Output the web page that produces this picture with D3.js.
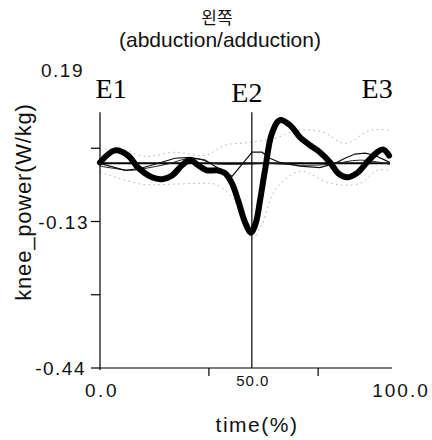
<!DOCTYPE html>
<html>
<head>
<meta charset="utf-8">
<script src="https://cdn.jsdelivr.net/npm/d3@7"></script>
<style>
  html, body { margin: 0; padding: 0; background: #fff; }
  svg { display: block; }
</style>
</head>
<body>
<svg id="chart" width="432" height="440"></svg>
<script>
// ---- data ----
const titleLines = ["왼쪽", "(abduction/adduction)"];
const xLabel = "time(%)";
const yLabel = "knee_power(W/kg)";
const yTickValues = [0.19, 0.0325, -0.125, -0.2825, -0.44];
const yTickLabels = ["0.19", "", "-0.13", "", "-0.44"];
const xMinorTicks = [37.3, 74.7];
const eventNames = ["E1", "E2", "E3"];
const eventTimes = [0, 52, 100];
const eventLabelTimes = [3.8, 50.3, 94.9];

// patient curve (thick)
const patientT = [0, 5.1, 9.6, 13, 17.8, 21.2, 24.7, 28.1, 30.8, 33.6, 36.6, 40.1, 42.8, 45.2, 47.3, 49.7, 51.7, 53.4, 54.8, 56.5, 58.9, 61.6, 65.1, 68.5, 71.9, 75.3, 78.8, 81.5, 84.6, 88, 91.4, 94.9, 96.9, 99];
const patientV = [0.002, 0.028, 0.017, -0.009, -0.030, -0.034, -0.026, -0.004, 0.007, -0.004, -0.015, -0.015, -0.021, -0.043, -0.080, -0.127, -0.149, -0.127, -0.080, -0.015, 0.065, 0.093, 0.082, 0.056, 0.039, 0.024, 0.002, -0.021, -0.030, -0.021, 0.002, 0.024, 0.030, 0.017];

// normal mean curves (thin)
const normalAT = [0, 3.4, 8.6, 13.7, 18.8, 25.7, 30.8, 36, 39.4, 45.2, 52.1, 55.5, 58.2, 61.6, 68.5, 75.3, 80.5, 83.9, 87.3, 90.8, 94.2, 97.6, 99.3];
const normalAV = [0.000, -0.006, -0.015, -0.011, -0.002, 0.011, 0.013, 0.007, -0.006, -0.028, 0.024, 0.024, 0.011, 0.002, -0.006, -0.009, 0.000, 0.011, 0.020, 0.022, 0.017, 0.007, 0.002];
const normalBT = [0, 5.1, 10.3, 17.1, 24, 29.1, 34.2, 38.4, 47.9, 58.2, 68.5, 78.8, 89, 99.3];
const normalBV = [-0.006, -0.011, -0.015, -0.009, 0.000, 0.009, 0.009, 0.000, -0.002, 0.000, -0.004, -0.002, 0.007, -0.002];

// SD bands (dotted gray)
const upperT = [0, 6.8, 15.4, 25.7, 36, 42.8, 51.4, 59.9, 67.5, 76.4, 83.9, 92.5, 99.3];
const upperV = [0.028, 0.032, 0.015, 0.024, 0.017, 0.039, 0.045, 0.054, 0.071, 0.067, 0.043, 0.071, 0.071];
const lowerT = [0, 14.4, 23.3, 34.9, 39.4, 45.2, 49.7, 52.1, 55.5, 59.9, 68.5, 78.8, 89, 94.9, 99.3];
const lowerV = [-0.019, -0.045, -0.045, -0.043, -0.045, -0.073, -0.131, -0.162, -0.131, -0.058, -0.017, -0.043, -0.043, -0.015, -0.015];

const zeroValue = 0;
const axisTopValue = 0.11;

// ---- drawing ----
const svg = d3.select("#chart");
const x = d3.scaleLinear().domain([0, 100]).range([100, 392]);
const y = d3.scaleLinear().domain([-0.44, 0.19]).range([368, 75]);
const sans = "'Liberation Sans', Arial, sans-serif";

const zip = (ts, vs) => ts.map((t, i) => [t, vs[i]]);
const mkLine = (curve) => d3.line().x(d => x(d[0])).y(d => y(d[1])).curve(curve);

// title
svg.append("text").attr("x", 217).attr("y", 24).attr("text-anchor", "middle")
  .attr("font-family", "'Noto Sans CJK KR', sans-serif").attr("font-size", 17).attr("fill", "#111").text(titleLines[0]);
svg.append("text").attr("x", 220).attr("y", 47).attr("text-anchor", "middle")
  .attr("font-family", sans).attr("font-size", 21).attr("fill", "#111").text(titleLines[1]);

// SD bands
[[upperT, upperV], [lowerT, lowerV]].forEach(([ts, vs]) => {
  svg.append("path").datum(zip(ts, vs))
    .attr("d", mkLine(d3.curveCatmullRom))
    .attr("fill", "none").attr("stroke", "#b0b0b0").attr("stroke-width", 1)
    .attr("stroke-dasharray", "1.5,3.5");
});

// zero line
svg.append("line").attr("x1", x(0)).attr("x2", x(99.3))
  .attr("y1", y(zeroValue)).attr("y2", y(zeroValue))
  .attr("stroke", "#000").attr("stroke-width", 2);

// normal thin curves
svg.append("path").datum(zip(normalBT, normalBV))
  .attr("d", mkLine(d3.curveCatmullRom))
  .attr("fill", "none").attr("stroke", "#222").attr("stroke-width", 1);
svg.append("path").datum(zip(normalAT, normalAV))
  .attr("d", mkLine(d3.curveLinear))
  .attr("fill", "none").attr("stroke", "#111").attr("stroke-width", 1.2);

// event lines (E2)
eventTimes.forEach((t) => {
  if (t > 0 && t < 100) {
    svg.append("line").attr("x1", x(t)).attr("x2", x(t))
      .attr("y1", y(axisTopValue)).attr("y2", y(-0.44))
      .attr("stroke", "#000").attr("stroke-width", 1.2);
  }
});

// patient thick curve
svg.append("path").datum(zip(patientT, patientV))
  .attr("d", mkLine(d3.curveCatmullRom))
  .attr("fill", "none").attr("stroke", "#000").attr("stroke-width", 6)
  .attr("stroke-linejoin", "round").attr("stroke-linecap", "round");

// y axis
svg.append("line").attr("x1", x(0)).attr("x2", x(0))
  .attr("y1", y(axisTopValue)).attr("y2", y(-0.44) + 2)
  .attr("stroke", "#000").attr("stroke-width", 1.2);
yTickValues.forEach((v, i) => {
  if (i > 0) {
    svg.append("line").attr("x1", x(0) - 9).attr("x2", x(0))
      .attr("y1", y(v)).attr("y2", y(v)).attr("stroke", "#000").attr("stroke-width", 1.2);
  }
  if (yTickLabels[i]) {
    svg.append("text").attr("x", i === 0 ? 84 : (i === 2 ? 89 : 86))
      .attr("y", y(v) + 7 - (i === 0 ? 5 : 0))
      .attr("text-anchor", "end").attr("font-family", sans).attr("font-size", 19)
      .attr("letter-spacing", 1.5).attr("fill", "#111").text(yTickLabels[i]);
  }
});

// x axis
svg.append("line").attr("x1", x(0)).attr("x2", x(100))
  .attr("y1", y(-0.44)).attr("y2", y(-0.44)).attr("stroke", "#000").attr("stroke-width", 1.2);
xMinorTicks.forEach(t => {
  svg.append("line").attr("x1", x(t)).attr("x2", x(t))
    .attr("y1", y(-0.44)).attr("y2", y(-0.44) + 8).attr("stroke", "#000").attr("stroke-width", 1.2);
});
svg.append("text").attr("x", x(0) + 2).attr("y", 397).attr("text-anchor", "middle")
  .attr("font-family", sans).attr("font-size", 19).attr("letter-spacing", 2.5).attr("fill", "#111").text("0.0");
svg.append("text").attr("x", x(eventTimes[1]) + 1).attr("y", 386).attr("text-anchor", "middle")
  .attr("font-family", sans).attr("font-size", 15).attr("letter-spacing", 1).attr("fill", "#111").text("50.0");
svg.append("text").attr("x", x(100) + 9).attr("y", 397).attr("text-anchor", "middle")
  .attr("font-family", sans).attr("font-size", 19).attr("letter-spacing", 2).attr("fill", "#111").text("100.0");

// axis titles
svg.append("text").attr("x", 257).attr("y", 432).attr("text-anchor", "middle")
  .attr("font-family", sans).attr("font-size", 21).attr("letter-spacing", 1.5).attr("fill", "#111").text(xLabel);
svg.append("text").attr("transform", "translate(31,202) rotate(-90)").attr("text-anchor", "middle")
  .attr("font-family", sans).attr("font-size", 22).attr("letter-spacing", 0.8).attr("fill", "#111").text(yLabel);

// event labels
eventNames.forEach((n, i) => {
  svg.append("text").attr("x", x(eventLabelTimes[i])).attr("y", i === 1 ? 102 : 98)
    .attr("text-anchor", "middle").attr("font-family", "'Liberation Serif', 'Times New Roman', serif")
    .attr("font-size", 28).attr("fill", "#000").text(n);
});
</script>
</body>
</html>
